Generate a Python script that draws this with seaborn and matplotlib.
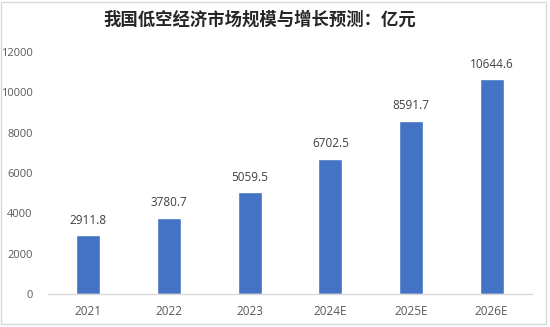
import matplotlib
matplotlib.use("Agg")
import matplotlib.pyplot as plt
import seaborn as sns
import pandas as pd
from matplotlib.patches import Rectangle

years = ["2021", "2022", "2023", "2024E", "2025E", "2026E"]
values = [2911.8, 3780.7, 5059.5, 6702.5, 8591.7, 10644.6]
title = "我国低空经济市场规模与增长预测：亿元"

sns.set_theme(style="white")
plt.rcParams['font.family'] = ['Open Sans', 'Noto Sans CJK SC', 'DejaVu Sans']

df = pd.DataFrame({"year": years, "value": values})

fig = plt.figure(figsize=(5.5, 3.27), dpi=100)
ax = fig.add_axes([48/550, 1-294/327, (532-48)/550, (294-52)/327])

sns.barplot(data=df, x="year", y="value", color="#4472C4", saturation=1,
            width=0.30, ax=ax)

ax.set_ylim(0, 12000)
ax.set_yticks(range(0, 12001, 2000))
ax.set_xlim(-0.5, len(years)-0.5)
ax.set_xlabel("")
ax.set_ylabel("")
for s in ["top", "right", "left"]:
    ax.spines[s].set_visible(False)
ax.spines["bottom"].set_color("#d9d9d9")
ax.spines["bottom"].set_linewidth(1)
ax.tick_params(axis="y", length=0, labelsize=8, labelcolor="#595959", pad=11)
ax.tick_params(axis="x", length=0, labelsize=8.5, labelcolor="#595959", pad=8)

for c in ax.containers:
    ax.bar_label(c, labels=[f"{v:.1f}" for v in values], padding=6,
                 fontsize=8.5, color="#404040")

fig.text(260/550, 1-20/327, title, ha="center", va="center",
         fontsize=12.5, fontweight="bold", color="#262626",
         family=['Noto Sans CJK SC', 'DejaVu Sans'])

fig.patches.append(Rectangle((1/550, 1-324/327), 545/550, 322/327,
                             transform=fig.transFigure, fill=False,
                             edgecolor="#d9d9d9", linewidth=1))

fig.savefig("out.png", dpi=100)
